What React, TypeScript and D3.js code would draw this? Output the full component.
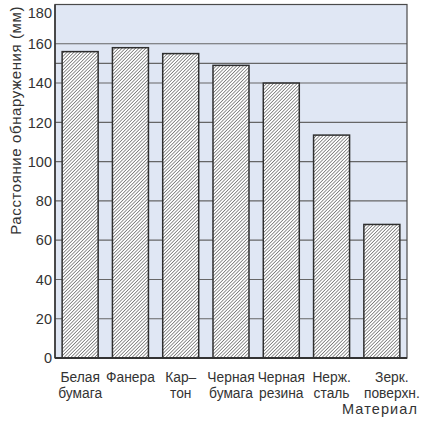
import React from "react";
import * as d3 from "d3";

const categories = ["Белая бумага", "Фанера", "Кар– тон", "Черная бумага", "Черная резина", "Нерж. сталь", "Зерк. поверхн."];
const labelLines = [["Белая", "бумага"], ["Фанера"], ["Кар–", "тон"], ["Черная", "бумага"], ["Черная", "резина"], ["Нерж.", "сталь"], ["Зерк.", "поверхн."]];
const values = [156, 158, 155, 149, 140, 113.5, 68];
const yTicks = [0, 20, 40, 60, 80, 100, 120, 140, 160, 180];
const gridValues = [20, 40, 60, 80, 100, 120, 140, 150, 160];
const yTitle = "Расстояние обнаружения (мм)";
const xTitle = "Материал";

const W = 427, H = 427;
const left = 55, right = 407, top = 4.5, bottom = 358;

export default function App() {
  const x = d3.scaleBand<string>().domain(categories).range([left, right]).paddingInner(0.284).paddingOuter(0.142);
  const y = d3.scaleLinear().domain([0, 180]).range([bottom, top]);
  const tickFont = "'Liberation Sans Narrow', 'Arial Narrow', 'Liberation Sans', Arial, sans-serif";
  const font = "'Liberation Sans', Arial, Helvetica, sans-serif";
  return (
    <svg width={W} height={H} style={{ position: "absolute", left: 0, top: 0 }}>
      <defs>
        <pattern id="hatch" patternUnits="userSpaceOnUse" width={2.4} height={2.4} patternTransform="rotate(45)">
          <rect width={2.4} height={2.4} fill="#fff" />
          <line x1={0} y1={0} x2={0} y2={2.4} stroke="#2a2a2a" strokeWidth={1.0} />
        </pattern>
      </defs>
      <rect x={0} y={0} width={W} height={H} fill="#fff" />
      <rect x={left} y={top} width={right - left} height={bottom - top} fill="#e0e7f4" />
      {gridValues.map((v) => (
        <line key={v} x1={left} x2={right} y1={y(v)} y2={y(v)} stroke="#666" strokeWidth={1.1} />
      ))}
      {categories.map((c, i) => (
        <rect key={c} x={x(c)} y={y(values[i])} width={x.bandwidth()} height={bottom - y(values[i])}
          fill="url(#hatch)" stroke="#2e2e2e" strokeWidth={1.5} />
      ))}
      <rect x={left} y={top} width={right - left} height={bottom - top} fill="none" stroke="#4a4a4a" strokeWidth={1.2} />
      <line x1={left} x2={right} y1={bottom} y2={bottom} stroke="#333" strokeWidth={2} />
      <line x1={left} x2={left} y1={top} y2={bottom} stroke="#333" strokeWidth={1.5} />
      {yTicks.map((v) => (
        <text key={v} x={52} y={Math.max(y(v), 13)} dy="0.36em" textAnchor="end" fontFamily={tickFont} fontSize={14.5} fill="#333">{v}</text>
      ))}
      {categories.map((c, i) => (
        <text key={c} textAnchor="middle" fontFamily={font} fontSize={13.8} fill="#333">
          {labelLines[i].map((l, j) => (
            <tspan key={j} x={(x(c) as number) + x.bandwidth() / 2 + (i === categories.length - 1 ? 10 : 0)} y={382 + j * 15.5}>{l}</tspan>
          ))}
        </text>
      ))}
      <text x={418} y={414} textAnchor="end" fontFamily={font} fontSize={14.5} letterSpacing={1.1} fill="#333">{xTitle}</text>
      <text transform={`translate(21,6) rotate(-90)`} textAnchor="end" fontFamily={font} fontSize={15} letterSpacing={0.6} fill="#333">{yTitle}</text>
    </svg>
  );
}
